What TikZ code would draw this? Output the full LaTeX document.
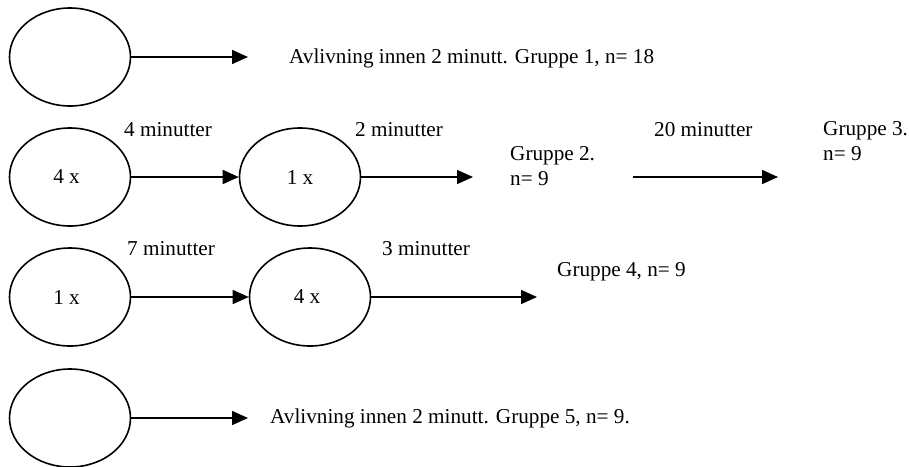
\documentclass[tikz,border=0pt]{standalone}
\usepackage{fontspec}
\setmainfont{Liberation Serif}
\usetikzlibrary{arrows.meta,shapes.geometric}
\begin{document}
\begin{tikzpicture}[x=1pt,y=-1pt,
  oval/.style={ellipse,draw,line width=1.6pt,minimum width=121pt,minimum height=98pt,inner sep=0pt,font=\fontsize{21.2}{24}\selectfont},
  arr/.style={line width=1.6pt,-{Triangle[length=16pt,width=14pt]}},
  lbl/.style={anchor=west,inner sep=0pt,font=\fontsize{21.2}{25}\selectfont,align=left}]
\useasboundingbox (0,0) rectangle (909,466);
% row 1
\node[oval] (a1) at (70,57) {};
\coordinate (a1e) at (248,57);
\draw[arr] (a1) -- (a1e);
\node[lbl] (t1) at (289,58) {Avlivning innen 2 minutt. Gruppe 1, n= 18};
% row 2
\node[oval] (b1) at (70,177) {4 x\kern7pt};
\node[oval] (b2) at (300,177) {1 x};
\coordinate (b2e) at (473,177);
\coordinate (b3s) at (633,177);
\coordinate (b3e) at (778,177);
\draw[arr] (b1) -- (b2);
\draw[arr] (b2) -- (b2e);
\draw[arr] (b3s) -- (b3e);
\node[lbl] (l41) at (124,130) {4 minutter};
\node[lbl] (l21) at (355,130) {2 minutter};
\node[lbl] (l201) at (654,130) {20 minutter};
\node[lbl] (g2) at (510,166) {Gruppe 2.\\n= 9};
\node[lbl] (g3) at (823,141) {Gruppe 3.\\n= 9};
% row 3
\node[oval] (c1) at (70,297) {1 x\kern7pt};
\node[oval] (c2) at (310,297) {4 x\kern6pt};
\coordinate (c2e) at (537,297);
\draw[arr] (c1) -- (c2);
\draw[arr] (c2) -- (c2e);
\node[lbl] (l7) at (127,249) {7 minutter};
\node[lbl] (l3) at (382,249) {3 minutter};
\node[lbl] (g4) at (557,272) {Gruppe 4, n= 9};
% row 4
\node[oval] (d1) at (70,418) {};
\coordinate (d1e) at (248,418);
\draw[arr] (d1) -- (d1e);
\node[lbl] (t5) at (270,418) {Avlivning innen 2 minutt. Gruppe 5, n= 9.};
\end{tikzpicture}
\end{document}
